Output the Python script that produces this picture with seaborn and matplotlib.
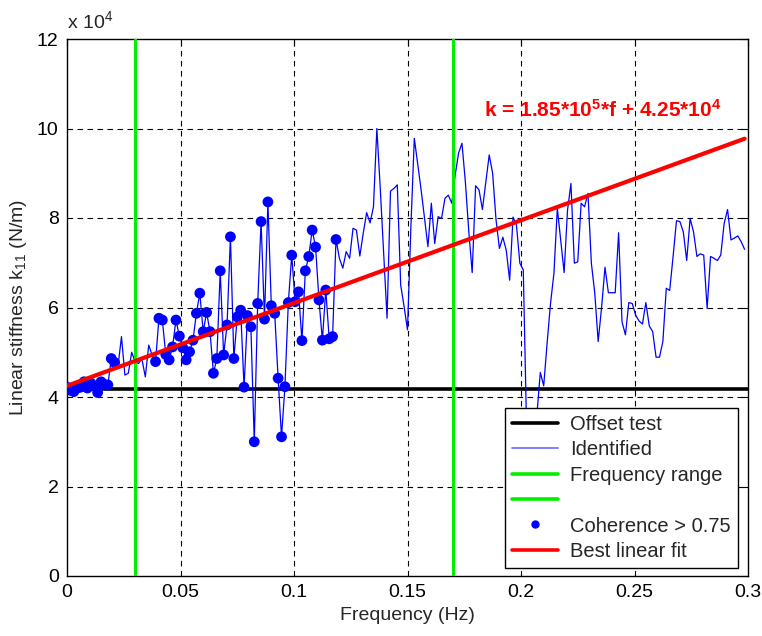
import numpy as np
import pandas as pd
import matplotlib
matplotlib.use("Agg")
import matplotlib.pyplot as plt
import seaborn as sns
from matplotlib.lines import Line2D

# Frequency resolution of the identification (Hz per bin)
df_hz = 0.0015

# Identified linear stiffness k11 per frequency bin, in units of 1e4 N/m
k_identified = [
    4.22, 4.15, 4.12, 4.20, 4.22, 4.34, 4.20, 4.31, 4.25, 4.10,
    4.34, 4.28, 4.27, 4.86, 4.77, 4.70, 5.35, 4.49, 4.53, 5.00,
    4.79, 4.75, 4.85, 4.45, 5.16, 4.94, 4.79, 5.76, 5.72, 4.95,
    4.83, 5.12, 5.72, 5.36, 5.10, 4.83, 5.01, 5.27, 5.87, 6.32,
    5.46, 5.89, 5.46, 4.53, 4.86, 6.82, 4.94, 5.61, 7.58, 4.86,
    5.79, 5.94, 4.22, 5.82, 5.57, 3.00, 6.09, 7.92, 5.74, 8.36,
    6.04, 5.87, 4.42, 3.11, 4.23, 6.11, 7.17, 6.13, 6.35, 5.26,
    6.82, 7.14, 7.73, 7.35, 6.17, 5.27, 6.39, 5.30, 5.35, 7.52,
    7.10, 6.88, 7.25, 7.10, 7.77, 7.73, 7.15, 7.66, 8.12, 7.89,
    8.25, 10.00, 8.66, 7.20, 5.76, 8.60, 8.66, 8.74, 6.50, 6.02,
    5.50, 7.81, 9.78, 9.20, 8.63, 8.00, 7.36, 8.33, 7.43, 8.03,
    7.99, 8.44, 8.51, 8.33, 8.96, 9.45, 9.67, 8.80, 7.70, 6.78,
    8.72, 8.63, 8.19, 8.80, 9.41, 9.00, 7.96, 7.32, 7.57, 7.28,
    6.61, 8.02, 7.84, 6.99, 6.84, 3.20, 2.90, 3.10, 3.60, 4.55,
    4.25, 5.20, 6.09, 6.76, 8.22, 7.51, 6.78, 8.18, 8.77, 6.99,
    7.02, 8.33, 8.25, 8.55, 6.99, 6.32, 5.24, 6.00, 6.90, 6.33,
    6.33, 6.33, 7.67, 5.68, 5.39, 6.11, 6.09, 5.83, 5.70, 5.63,
    6.11, 5.59, 5.46, 4.89, 4.89, 5.24, 6.43, 6.38, 7.14, 7.94,
    7.92, 7.69, 7.05, 7.99, 7.69, 7.14, 7.20, 7.17, 5.98, 7.14,
    7.10, 7.05, 7.17, 7.88, 8.19, 7.51, 7.55, 7.60, 7.47, 7.30,
]

# Bin ranges (inclusive) where coherence exceeds 0.75
coherent_bins = [(0, 14), (26, 79)]

# Frequency band used for the fit (Hz)
band_limits = [0.03, 0.17]

# Stiffness from the offset test (1e4 N/m)
offset_k = 4.17

# Best linear fit k = a*f + b (N/m)
fit_slope = 1.85e5
fit_intercept = 4.25e4

x_ticks = [0, 0.05, 0.1, 0.15, 0.2, 0.25, 0.3]
x_tick_labels = ["0", "0.05", "0.1", "0.15", "0.2", "0.25", "0.3"]
y_ticks = [0, 2, 4, 6, 8, 10, 12]

scale = 1e4

freq = np.arange(len(k_identified)) * df_hz
k_vals = np.array(k_identified) * scale
ident = pd.DataFrame({"f": freq, "k": k_vals})
mask = np.zeros(len(freq), dtype=bool)
for a, b in coherent_bins:
    mask[a:b + 1] = True
coh = ident[mask]
fit = pd.DataFrame({"f": freq, "k": fit_slope * freq + fit_intercept})

sns.set_theme(style="white")
plt.rcParams["font.family"] = ["Liberation Sans", "DejaVu Sans"]
plt.rcParams["mathtext.fontset"] = "custom"
plt.rcParams["mathtext.rm"] = "Liberation Sans"
plt.rcParams["mathtext.it"] = "Liberation Sans:italic"
plt.rcParams["mathtext.bf"] = "Liberation Sans:bold"

fig = plt.figure(figsize=(7.62, 6.36), dpi=100)
ax = fig.add_axes([67 / 762, 1 - 576 / 636, 681 / 762, 537 / 636])

# Grid
for xv in x_ticks[1:-1]:
    ax.axvline(xv, color="black", lw=0.8, ls=(0, (5, 4)), zorder=0)
for yv in y_ticks[1:-1]:
    ax.axhline(yv * scale, color="black", lw=0.8, ls=(0, (5, 4)), zorder=0)

ax.axhline(offset_k * scale, color="black", lw=2.6, zorder=2)
sns.lineplot(data=ident, x="f", y="k", ax=ax, color="#0000ff", lw=0.9,
             zorder=3, legend=False)
for bl in band_limits:
    ax.axvline(bl, color="#00ee00", lw=2.2, zorder=4)
sns.scatterplot(data=coh, x="f", y="k", ax=ax, color="#0000ff", s=60,
                edgecolor="none", zorder=5, legend=False)
sns.lineplot(data=fit, x="f", y="k", ax=ax, color="#ff0000", lw=3.0,
             zorder=6, legend=False)

ax.set_xlim(0, 0.3)
ax.set_ylim(0, 12 * scale)
ax.set_xticks(x_ticks)
ax.set_xticklabels(x_tick_labels)
ax.set_yticks([v * scale for v in y_ticks])
ax.set_yticklabels([str(v) for v in y_ticks])
ax.tick_params(direction="in", length=5, width=0.8, labelsize=14,
               top=True, right=True, colors="black", pad=6)
for sp in ax.spines.values():
    sp.set_color("black")
    sp.set_linewidth(1.0)

ax.set_xlabel("Frequency (Hz)", fontsize=14, labelpad=4)
ax.set_ylabel("Linear stiffness k$_{11}$ (N/m)", fontsize=14, labelpad=6)
ax.text(0.0, 1.012, r"x 10$^{4}$", transform=ax.transAxes, fontsize=14,
        ha="left", va="bottom")

ax.text(0.612, 0.868,
        r"k = 1.85*10$^{\mathbf{5}}$*f + 4.25*10$^{\mathbf{4}}$",
        transform=ax.transAxes, color="#ff0000", fontsize=15,
        fontweight="bold", ha="left", va="center")

handles = [
    Line2D([], [], color="black", lw=2.6),
    Line2D([], [], color="#6a6aff", lw=1.2),
    Line2D([], [], color="#00ee00", lw=2.6),
    Line2D([], [], color="#00ee00", lw=2.6),
    Line2D([], [], color="#0000ff", lw=0, marker="o", markersize=5),
    Line2D([], [], color="#ff0000", lw=2.6),
]
labels = ["Offset test", "Identified", "Frequency range", " ",
          "Coherence > 0.75", "Best linear fit"]
leg = ax.legend(handles, labels, loc="lower right",
                bbox_to_anchor=(0.9853, 0.0149), borderaxespad=0,
                fontsize=14.5, frameon=True, fancybox=False, framealpha=1,
                edgecolor="black", handlelength=2.3, handletextpad=0.6,
                labelspacing=0.32, borderpad=0.35)
leg.get_frame().set_linewidth(1.0)

fig.savefig("out.png", dpi=100)
